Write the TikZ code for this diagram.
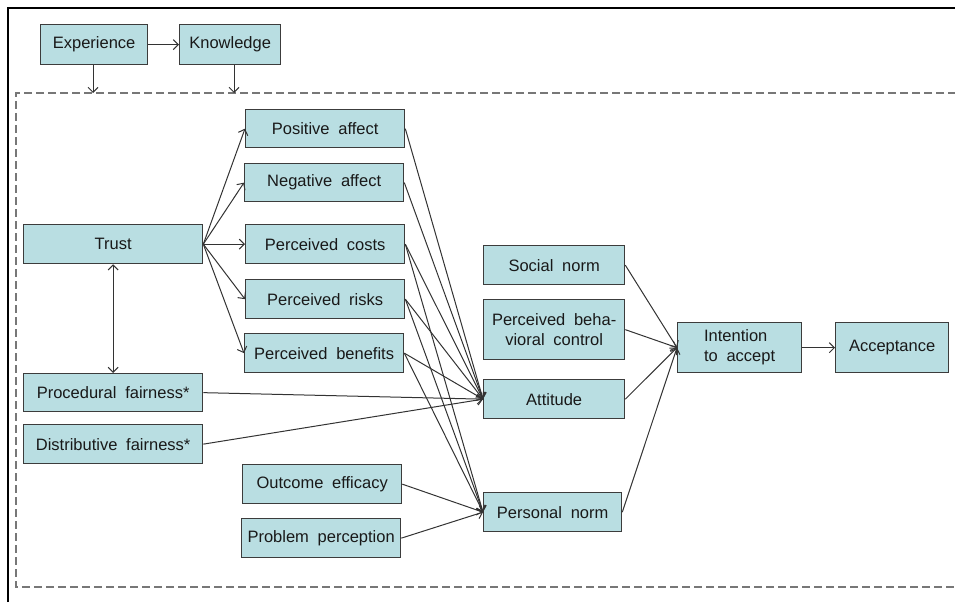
\documentclass[tikz,border=0pt]{standalone}
\usepackage{fontspec}
\setmainfont[WordSpace=1.9]{Liberation Sans}
\usetikzlibrary{arrows.meta}
\definecolor{boxfill}{HTML}{B9DEE2}
\definecolor{boxline}{HTML}{3C3C3C}
\definecolor{arr}{HTML}{333333}
\definecolor{dash}{HTML}{777777}
\begin{document}
\begin{tikzpicture}[x=1pt,y=-1pt,
  box/.style={draw=boxline, fill=boxfill, line width=1.3pt, inner sep=0pt, anchor=north west,
    font=\fontsize{16.5}{20}\selectfont, text=black!90},
  conn/.style={draw=arr, line width=1pt, -{Straight Barb[length=5pt,width=10pt]}},
  biconn/.style={draw=arr, line width=1pt, {Straight Barb[length=5pt,width=10pt]}-{Straight Barb[length=5pt,width=10pt]}}]
\useasboundingbox (0,0) rectangle (955,602);
% outer frame
\draw[line width=1.8pt, black] (8,602) -- (8,8) -- (955,8);
% dashed region
\draw[draw=dash, line width=1.3pt, dash pattern=on 8pt off 4pt] (956,93) -- (16,93) -- (16,587) -- (956,587);
\coordinate (d1) at (93,93);
\coordinate (d2) at (234,93);
% nodes
\node[box, minimum width=107, minimum height=40] (exp) at (40,24) {Experience};
\node[box, minimum width=101, minimum height=40] (kno) at (179,24) {Knowledge};
\node[box, minimum width=159, minimum height=38] (pa) at (245,109) {Positive affect};
\node[box, minimum width=159, minimum height=38] (na) at (244,163) {Negative affect};
\node[box, minimum width=159, minimum height=39] (pc) at (245,224) {Perceived costs};
\node[box, minimum width=159, minimum height=39] (pr) at (245,279) {Perceived risks};
\node[box, minimum width=159, minimum height=39] (pb) at (244,333) {Perceived benefits};
\node[box, minimum width=179, minimum height=39] (tr) at (23,224) {Trust};
\node[box, minimum width=179, minimum height=38] (pf) at (23,373) {Procedural fairness*};
\node[box, minimum width=179, minimum height=39] (df) at (23,424) {Distributive fairness*};
\node[box, minimum width=159, minimum height=39] (oe) at (242,464) {Outcome efficacy};
\node[box, minimum width=159, minimum height=39] (pp) at (241,518) {Problem perception};
\node[box, minimum width=141, minimum height=39] (sn) at (483,245) {Social norm};
\node[box, minimum width=141, minimum height=60, align=center] (pbc) at (483,299) {Perceived beha-\\vioral control};
\node[box, minimum width=141, minimum height=39] (att) at (483,379) {Attitude};
\node[box, minimum width=138, minimum height=39] (pn) at (483,492) {Personal norm};
\node[box, minimum width=124, minimum height=50, align=left] (int) at (677,322) {Intention\\to accept};
\node[box, minimum width=113, minimum height=50] (acc) at (835,322) {Acceptance};
% connectors
\draw[conn] (exp) -- (kno);
\draw[conn] (exp.south -| d1) -- (d1);
\draw[conn] (kno.south -| d2) -- (d2);
\foreach \n in {pa,na,pc,pr,pb} \draw[conn] (tr.east) -- (\n.west);
\draw[biconn] (tr.south) -- (pf.north -| tr.south);
\foreach \n in {pa,na,pc,pr,pb,pf,df} \draw[conn] (\n.east) -- (att.west);
\foreach \n in {pc,pr,pb,oe,pp} \draw[conn] (\n.east) -- (pn.west);
\foreach \n in {sn,pbc,att,pn} \draw[conn] (\n.east) -- (int.west);
\draw[conn] (int) -- (acc);
\end{tikzpicture}
\end{document}
